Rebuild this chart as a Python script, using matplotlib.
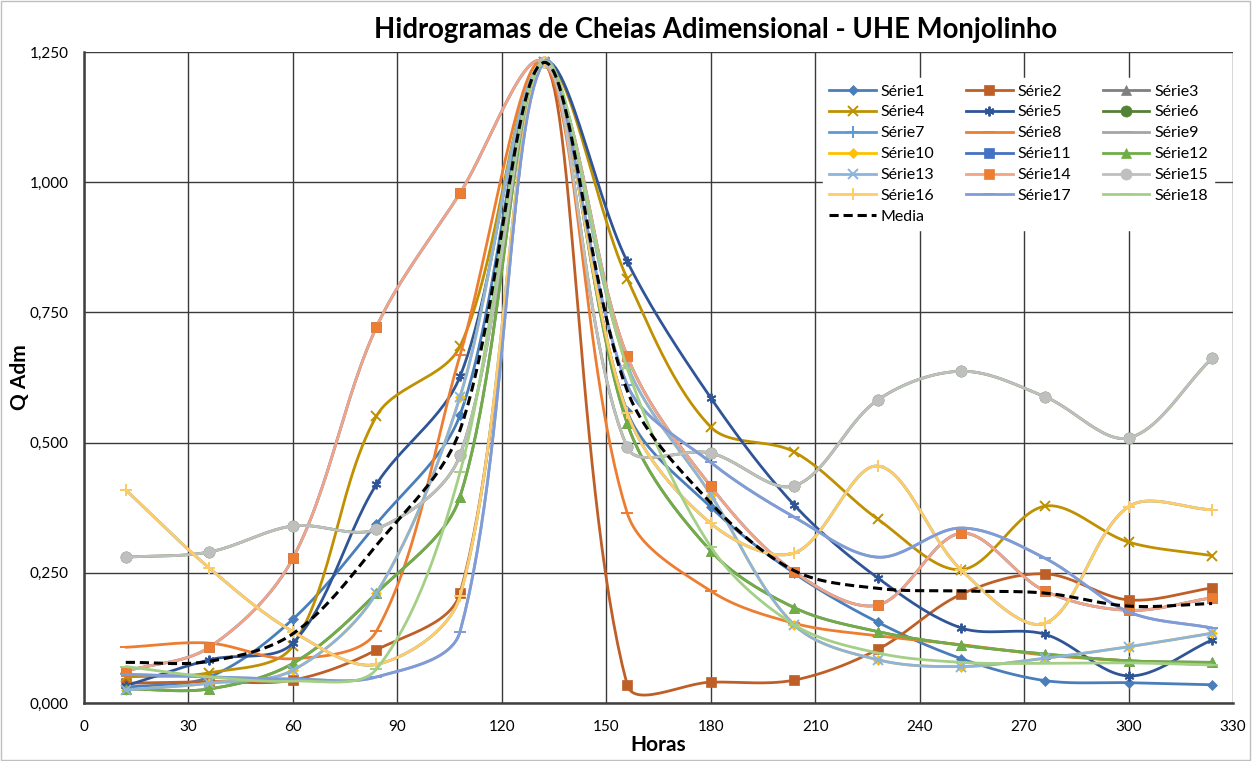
import numpy as np
import matplotlib
matplotlib.use("Agg")
import matplotlib.pyplot as plt
from matplotlib.ticker import FuncFormatter, MultipleLocator
from matplotlib.patches import Rectangle

plt.rcParams["font.family"] = ["Lato", "DejaVu Sans"]

# hours of each ordinate
horas = [12, 36, 60, 84, 108, 132, 156, 180, 204, 228, 252, 276, 300, 324]

serie1 = [0.030, 0.050, 0.161, 0.344, 0.553, 1.230, 0.560, 0.376, 0.249, 0.155, 0.085, 0.043, 0.039, 0.035]
serie2 = [0.038, 0.041, 0.044, 0.102, 0.211, 1.230, 0.035, 0.040, 0.044, 0.103, 0.209, 0.248, 0.198, 0.221]
serie4 = [0.050, 0.058, 0.110, 0.551, 0.685, 1.230, 0.815, 0.530, 0.482, 0.353, 0.256, 0.378, 0.309, 0.283]
serie5 = [0.033, 0.083, 0.115, 0.420, 0.627, 1.230, 0.848, 0.586, 0.380, 0.240, 0.144, 0.132, 0.052, 0.121]
serie8 = [0.107, 0.115, 0.085, 0.138, 0.668, 1.230, 0.365, 0.215, 0.153, 0.129, 0.112, 0.092, 0.081, 0.073]
serie12 = [0.027, 0.027, 0.076, 0.211, 0.396, 1.230, 0.537, 0.292, 0.183, 0.137, 0.111, 0.094, 0.081, 0.078]
serie13 = [0.025, 0.038, 0.063, 0.211, 0.588, 1.230, 0.649, 0.400, 0.150, 0.083, 0.070, 0.086, 0.108, 0.134]
serie14 = [0.061, 0.107, 0.278, 0.722, 0.979, 1.230, 0.666, 0.416, 0.252, 0.188, 0.326, 0.215, 0.178, 0.202]
serie15 = [0.280, 0.290, 0.340, 0.334, 0.476, 1.230, 0.491, 0.480, 0.417, 0.582, 0.637, 0.588, 0.509, 0.662]
serie16 = [0.409, 0.259, 0.137, 0.074, 0.205, 1.230, 0.557, 0.345, 0.288, 0.455, 0.255, 0.153, 0.377, 0.371]
serie17 = [0.055, 0.050, 0.046, 0.050, 0.137, 1.230, 0.611, 0.462, 0.357, 0.280, 0.336, 0.278, 0.175, 0.144]
serie18 = [0.070, 0.050, 0.042, 0.065, 0.443, 1.230, 0.643, 0.300, 0.150, 0.096, 0.078, 0.076, 0.077, 0.073]
# these ones are not visible in the picture, they sit under a later series
serie3 = list(serie12)
serie6 = list(serie15)
serie7 = list(serie16)
serie9 = list(serie17)
serie10 = list(serie13)
serie11 = list(serie14)

media = [0.078, 0.080, 0.133, 0.303, 0.524, 1.230, 0.600, 0.384, 0.254, 0.220, 0.215, 0.211, 0.186, 0.191]

series = [serie1, serie2, serie3, serie4, serie5, serie6, serie7, serie8, serie9,
          serie10, serie11, serie12, serie13, serie14, serie15, serie16, serie17, serie18]
nomes = [f"Série{i}" for i in range(1, 19)]

cores = ["#4A7EBB", "#BE5F28", "#7F7F7F", "#BF9000", "#2F5597", "#548235",
         "#5B9BD5", "#ED7D31", "#A5A5A5", "#FFC000", "#4472C4", "#70AD47",
         "#8CB4DC", "#F2A585", "#BFBFBF", "#FFCC66", "#7E9CDA", "#A3CF86"]
cor_marcador = {13: "#ED7D31"}
marcadores = ["D", "s", "^", "x", (6, 2, 0), "o", "+", "_", "_",
              "D", "s", "^", "x", "s", "o", "+", "_", "_"]
tam = {"D": 5.5, "s": 7, "^": 7, "x": 7, "o": 8, "+": 9, "_": 8}

XMAX, YMAX = 330.0, 1.25
SX, SY = 1149.0 / XMAX, 651.0 / YMAX  # pixels per unit, used for the smoothing


def excel_smooth(x, y, n=30):
    # bezier smoothing with chord weighted tangents, as Excel's "smoothed line"
    pts = np.column_stack([np.asarray(x, float) * SX, np.asarray(y, float) * SY])
    m = len(pts)
    out = [pts[:1]]
    t = np.linspace(0, 1, n)[1:, None]
    for i in range(m - 1):
        p0, p1, p2, p3 = pts[max(i - 1, 0)], pts[i], pts[i + 1], pts[min(i + 2, m - 1)]
        d01 = np.hypot(*(p1 - p0))
        d12 = np.hypot(*(p2 - p1))
        d23 = np.hypot(*(p3 - p2))
        c1 = p1 + (p2 - p0) * (2 * d12 / (d01 + d12)) / 6
        c2 = p2 - (p3 - p1) * (2 * d12 / (d12 + d23)) / 6
        seg = (1 - t) ** 3 * p1 + 3 * (1 - t) ** 2 * t * c1 + 3 * (1 - t) * t ** 2 * c2 + t ** 3 * p2
        out.append(seg)
    arr = np.vstack(out)
    return arr[:, 0] / SX, arr[:, 1] / SY


fig = plt.figure(figsize=(12.52, 7.61), dpi=100)
ax = fig.add_axes([84 / 1252, 1 - 703 / 761, 1149 / 1252, 651 / 761])

handles = []
for k, (vals, nome) in enumerate(zip(series, nomes)):
    xs, ys = excel_smooth(horas, vals)
    cor = cores[k]
    ax.plot(xs, ys, color=cor, lw=2.0, zorder=2 + k * 0.01, solid_capstyle="round")
    mk = marcadores[k]
    key = mk if isinstance(mk, str) else "x"
    mc = cor_marcador.get(k, cor)
    ax.plot(horas, vals, linestyle="none", marker=mk, markersize=tam[key],
            color=mc, markeredgecolor=mc, markeredgewidth=1.4 if key in "x+_" else 0.5,
            zorder=2.005 + k * 0.01)
    handles.append(plt.Line2D([], [], color=cor, lw=2.0, marker=mk, markersize=tam[key],
                              markerfacecolor=mc, markeredgecolor=mc,
                              markeredgewidth=1.4 if key in "x+_" else 0.5, label=nome))

xs, ys = excel_smooth(horas, media)
ax.plot(xs, ys, color="black", lw=2.2, linestyle=(0, (3, 1.6)), zorder=3)
handles.append(plt.Line2D([], [], color="black", lw=2.2, linestyle=(0, (3, 1.6)), label="Media"))

ax.set_xlim(0, XMAX)
ax.set_ylim(0, YMAX)
ax.xaxis.set_major_locator(MultipleLocator(30))
ax.yaxis.set_major_locator(MultipleLocator(0.25))
ax.yaxis.set_major_formatter(FuncFormatter(lambda v, p: f"{v:.3f}".replace(".", ",")))
ax.grid(True, color="#3A3A3A", lw=1.0, zorder=0)
ax.set_axisbelow(True)
ax.tick_params(length=0, labelsize=11, colors="#000000", pad=11)
ax.tick_params(axis="x", pad=12)
for s in ["top", "right"]:
    ax.spines[s].set_visible(False)
for s in ["left", "bottom"]:
    ax.spines[s].set_color("#404040")
    ax.spines[s].set_linewidth(1.8)

ax.set_xlabel("Horas", fontsize=15, fontweight="bold", labelpad=1)
ax.set_ylabel("Q Adm", fontsize=15, fontweight="bold")
ax.yaxis.set_label_coords((30 - 84) / 1149, 0.5)

fig.text(716 / 1252, 1 - 30 / 761, "Hidrogramas de Cheias Adimensional - UHE Monjolinho",
         ha="center", va="center", fontsize=19.8, fontweight="bold")

# Excel fills the legend row by row, matplotlib column by column
ordem = [0, 3, 6, 9, 12, 15, 18, 1, 4, 7, 10, 13, 16, 2, 5, 8, 11, 14, 17]
leg = ax.legend([handles[i] for i in ordem], [handles[i].get_label() for i in ordem],
                ncol=3, loc="upper left", bbox_to_anchor=((823 - 84) / 1149, (703 - 78) / 651),
                frameon=True, fontsize=11.5, handlelength=2.9, columnspacing=2.0,
                labelspacing=0.42, handletextpad=0.3, borderaxespad=0, borderpad=0.4)
leg.get_frame().set_facecolor("white")
leg.get_frame().set_edgecolor("white")
leg.get_frame().set_alpha(1)
leg.get_frame().set_boxstyle("square", pad=0)
leg.set_zorder(10)

fig.patches.append(Rectangle((0.0008, 0.001), 0.998, 0.998, transform=fig.transFigure,
                             fill=False, edgecolor="#BFBFBF", lw=1))

fig.savefig("out.png", dpi=100)
